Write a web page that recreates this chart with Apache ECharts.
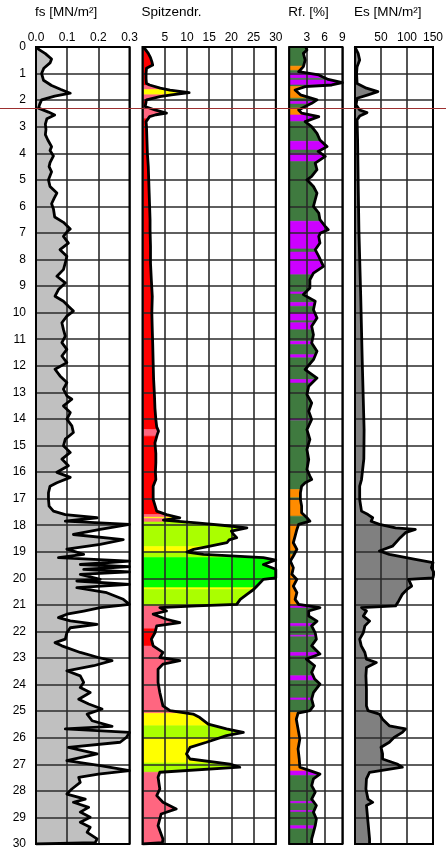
<!DOCTYPE html>
<html><head><meta charset="utf-8">
<script src="https://cdn.jsdelivr.net/npm/echarts@6/dist/echarts.min.js"></script>
<style>html,body{margin:0;padding:0;background:#fff}#c{width:446px;height:852px}</style>
</head><body><div id="c"></div>
<script>
// ---------- DATA ----------
// depth ticks
const depthMin = 0, depthMax = 30, depthStep = 1;
const groundwaterDepth = 2.3;

// fs [MN/m²] : [depth, value]
const fsProfile = [[0,0],[0.1,0.01],[0.25,0.03],[0.45,0.05],[0.6,0.045],[0.8,0.025],[1.0,0.018],[1.25,0.024],[1.45,0.05],[1.6,0.08],[1.74,0.11],[1.85,0.06],[1.99,0.018],[2.15,0.012],[2.3,0.008],[2.45,0.04],[2.56,0.06],[2.7,0.035],[2.9,0.03],[3.1,0.032],[3.3,0.03],[3.5,0.038],[3.75,0.05],[3.9,0.045],[4.1,0.056],[4.35,0.045],[4.5,0.042],[4.7,0.05],[5.0,0.04],[5.25,0.045],[5.5,0.067],[5.7,0.058],[5.9,0.05],[6.1,0.056],[6.4,0.06],[6.6,0.088],[6.85,0.11],[6.95,0.1],[7.13,0.088],[7.38,0.104],[7.63,0.077],[7.88,0.099],[8.13,0.094],[8.38,0.088],[8.63,0.067],[8.88,0.094],[9.13,0.072],[9.38,0.061],[9.57,0.088],[9.76,0.104],[9.94,0.12],[10.13,0.099],[10.38,0.083],[10.63,0.088],[10.88,0.094],[11.13,0.083],[11.38,0.099],[11.63,0.083],[11.88,0.099],[12.13,0.061],[12.38,0.077],[12.63,0.099],[12.88,0.088],[13.13,0.099],[13.26,0.115],[13.51,0.088],[13.76,0.11],[14.01,0.099],[14.26,0.115],[14.51,0.12],[14.76,0.094],[15.01,0.088],[15.26,0.11],[15.51,0.083],[15.76,0.104],[16.01,0.067],[16.2,0.11],[16.4,0.067],[16.53,0.045],[16.78,0.04],[17.03,0.04],[17.28,0.042],[17.47,0.056],[17.6,0.094],[17.72,0.196],[17.85,0.094],[17.97,0.3],[18.16,0.206],[18.35,0.12],[18.54,0.28],[18.72,0.206],[18.9,0.099],[19.1,0.153],[19.22,0.072],[19.35,0.3],[19.48,0.142],[19.56,0.3],[19.66,0.153],[19.76,0.3],[19.85,0.142],[20.04,0.206],[20.1,0.131],[20.23,0.3],[20.35,0.131],[20.54,0.227],[20.79,0.28],[20.98,0.3],[21.1,0.206],[21.23,0.153],[21.35,0.099],[21.48,0.072],[21.6,0.11],[21.73,0.196],[21.86,0.11],[22.05,0.099],[22.29,0.094],[22.42,0.061],[22.54,0.083],[22.79,0.142],[22.98,0.2],[23.1,0.244],[23.29,0.185],[23.48,0.099],[23.67,0.142],[23.92,0.153],[24.11,0.142],[24.3,0.174],[24.55,0.137],[24.73,0.169],[24.92,0.212],[25.11,0.164],[25.36,0.18],[25.57,0.244],[25.67,0.094],[25.8,0.3],[25.99,0.29],[26.17,0.27],[26.36,0.104],[26.61,0.196],[26.86,0.099],[27.05,0.206],[27.24,0.3],[27.37,0.2],[27.49,0.137],[27.68,0.142],[27.93,0.115],[28.12,0.099],[28.31,0.158],[28.43,0.12],[28.62,0.169],[28.8,0.142],[28.99,0.174],[29.18,0.142],[29.37,0.174],[29.56,0.164],[29.81,0.196],[29.95,0.19],[30,0]];
const fsBands = [[0,30,'F']];

// Spitzendruck qc [MN/m²] : [depth, value]
const qcProfile = [[0,0],[0.08,0.6],[0.24,1.3],[0.4,1.8],[0.55,2.1],[0.68,2.3],[0.8,0.9],[1.0,0.8],[1.2,0.8],[1.37,0.9],[1.43,1.6],[1.55,4.0],[1.62,6.2],[1.72,10.5],[1.8,6.5],[1.87,3.9],[1.99,0.9],[2.24,0.6],[2.37,2.8],[2.49,5.4],[2.55,3.0],[2.62,1.6],[2.81,0.8],[3.0,0.9],[3.5,1.0],[4.0,1.1],[4.5,1.3],[5.0,1.4],[5.5,1.5],[6.0,1.6],[6.5,1.7],[6.88,1.7],[7.5,1.8],[8.13,1.8],[8.8,2.0],[9.39,2.2],[10.0,2.1],[10.64,2.2],[11.2,2.3],[11.89,2.4],[12.5,2.5],[13.15,2.7],[13.6,2.8],[14.02,3.0],[14.3,3.2],[14.46,3.6],[14.6,3.3],[14.9,2.8],[15.3,3.0],[15.65,3.0],[16.0,2.9],[16.28,3.0],[16.53,2.4],[17.03,2.4],[17.47,3.2],[17.6,5.4],[17.72,8.4],[17.81,4.7],[17.91,12.2],[18.03,19.7],[18.1,23.5],[18.22,20],[18.35,20.5],[18.47,21.2],[18.55,19.5],[18.66,19],[18.79,15.2],[18.91,11.5],[19.01,10],[19.1,13.7],[19.22,27.2],[19.31,30],[19.48,27.2],[19.66,30],[19.98,30],[20.04,27.2],[20.23,26.1],[20.42,25],[20.6,23.5],[20.79,22],[20.98,21.2],[21.04,12.2],[21.1,3.9],[21.23,5.4],[21.35,2.4],[21.54,5.4],[21.67,8.4],[21.79,3.2],[22.05,2.8],[22.29,2.0],[22.54,2.4],[22.79,4.6],[22.98,3.9],[23.1,8.4],[23.23,4.6],[23.42,3.5],[23.92,3.5],[24.3,3.9],[24.8,4.6],[24.98,6.2],[25.11,11.4],[25.24,12.9],[25.49,14.8],[25.67,18.9],[25.8,22.7],[25.92,18.9],[26.17,14.4],[26.36,10.7],[26.61,9.9],[26.8,10.7],[26.99,19.7],[27.11,21.9],[27.3,3.9],[27.49,3.5],[27.93,3.9],[28.18,3.2],[28.43,4.6],[28.68,7.6],[28.87,4.2],[29.31,3.5],[29.81,4.6],[29.95,4.5],[30,0]];
// soil class bands: [top, bottom, class]
const qcBands = [[0,1.45,'R'],[1.45,1.6,'P'],[1.6,1.8,'Y'],[1.8,2.0,'P'],[2.0,2.25,'R'],[2.25,2.7,'P'],[2.7,14.4,'R'],[14.4,14.65,'P'],[14.65,17.6,'R'],[17.6,17.7,'P'],[17.7,17.75,'Y'],[17.75,17.88,'P'],[17.88,18.8,'YG'],[18.8,19.0,'Y'],[19.0,19.22,'YG'],[19.22,20.35,'G'],[20.35,20.42,'Y'],[20.42,21.04,'YG'],[21.04,21.9,'P'],[21.9,22.55,'R'],[22.55,25.08,'P'],[25.08,25.55,'Y'],[25.55,26.02,'YG'],[26.02,26.95,'Y'],[26.95,27.3,'YG'],[27.3,30,'P']];

// Rf [%] : [depth, value]
const rfProfile = [[0,2.8],[0.11,3.0],[0.24,2.4],[0.49,2.7],[0.74,2.4],[0.93,1.6],[1.05,5.0],[1.22,6.6],[1.34,9.0],[1.43,7.2],[1.49,2.7],[1.62,1.0],[1.8,1.9],[1.99,4.7],[2.12,3.8],[2.24,2.7],[2.37,1.6],[2.49,2.1],[2.62,5.0],[2.81,2.7],[3.0,3.8],[3.25,4.7],[3.5,5.2],[3.75,6.4],[3.93,4.9],[4.12,6.1],[4.37,4.4],[4.62,4.7],[4.87,3.8],[5.0,3.0],[5.25,4.1],[5.5,4.7],[5.75,4.4],[6.0,4.1],[6.25,5.0],[6.5,5.2],[6.75,6.1],[6.88,6.6],[7.0,5.3],[7.13,5.0],[7.38,5.2],[7.63,4.4],[7.88,5.0],[8.26,5.8],[8.51,4.1],[8.76,3.5],[9.07,3.5],[9.32,2.4],[9.57,4.4],[9.89,4.1],[10.2,4.7],[10.51,3.8],[10.83,4.1],[11.14,3.8],[11.45,4.7],[11.77,4.1],[12.14,2.7],[12.46,4.7],[12.77,3.3],[13.08,3.0],[13.4,3.8],[13.71,3.3],[14.02,3.8],[14.4,3.0],[14.77,3.5],[15.15,3.0],[15.53,3.3],[15.9,3.0],[16.15,3.5],[16.28,3.8],[16.4,2.7],[16.53,2.1],[16.78,1.9],[17.03,1.9],[17.28,2.1],[17.53,2.1],[17.72,3.0],[17.85,3.5],[17.97,1.6],[18.16,1.3],[18.41,1.0],[18.66,0.7],[18.91,1.3],[19.16,0.7],[19.35,0.2],[19.6,0.7],[19.85,0.45],[20.04,1.3],[20.29,0.7],[20.54,1.3],[20.79,1.0],[20.98,1.6],[21.1,5.2],[21.23,3.3],[21.42,3.3],[21.61,4.7],[21.79,3.8],[22.05,4.4],[22.29,4.6],[22.54,3.8],[22.85,5.2],[23.04,2.9],[23.29,4.3],[23.54,3.8],[23.79,4.3],[23.98,5.2],[24.3,4.1],[24.55,3.8],[24.8,4.1],[24.98,3.5],[25.07,1.5],[25.3,1.2],[25.67,1.5],[26.05,1.8],[26.42,1.5],[26.8,1.7],[27.11,1.8],[27.24,3.5],[27.37,5.2],[27.55,4.1],[27.8,3.8],[28.05,4.4],[28.31,3.8],[28.55,4.6],[28.8,4.1],[29.06,4.6],[29.31,4.4],[29.56,4.1],[29.81,3.8],[30,3.8]];
const rfBands = [[0,0.72,'G'],[0.72,0.88,'O'],[0.88,0.99,'G'],[0.99,1.18,'V'],[1.18,1.24,'G'],[1.24,1.43,'V'],[1.43,1.49,'G'],[1.49,1.93,'O'],[1.93,2.05,'G'],[2.05,2.15,'V'],[2.15,2.3,'G'],[2.3,2.56,'O'],[2.56,2.8,'V'],[2.8,3.55,'G'],[3.55,3.88,'V'],[3.88,4.0,'G'],[4.0,4.31,'V'],[4.31,6.56,'G'],[6.56,7.6,'V'],[7.6,7.72,'G'],[7.72,8.57,'V'],[8.57,9.22,'G'],[9.22,9.3,'V'],[9.3,9.62,'G'],[9.62,9.76,'V'],[9.76,10.0,'G'],[10.0,10.3,'V'],[10.3,10.38,'G'],[10.38,10.64,'V'],[10.64,11.08,'G'],[11.08,11.2,'V'],[11.2,11.58,'G'],[11.58,11.7,'V'],[11.7,12.52,'G'],[12.52,12.65,'V'],[12.65,14.0,'G'],[14.0,14.06,'V'],[14.06,16.66,'G'],[16.66,16.97,'O'],[16.97,17.05,'G'],[17.05,17.66,'O'],[17.66,17.97,'G'],[17.97,18.97,'O'],[18.97,19.1,'G'],[19.1,21.04,'O'],[21.04,21.12,'V'],[21.12,21.7,'G'],[21.7,21.8,'V'],[21.8,22.14,'G'],[22.14,22.2,'V'],[22.2,22.79,'G'],[22.79,22.92,'V'],[22.92,23.67,'G'],[23.67,23.85,'V'],[23.85,24.5,'G'],[24.5,24.58,'V'],[24.58,25.05,'G'],[25.05,27.25,'O'],[27.25,27.42,'V'],[27.42,28.4,'G'],[28.4,28.47,'V'],[28.47,28.74,'G'],[28.74,28.8,'V'],[28.8,29.31,'G'],[29.31,29.43,'V'],[29.43,30,'G']];

// Es [MN/m²] : [depth, value]
const esProfile = [[0,0],[0.24,6],[0.49,9],[0.74,4],[0.99,3],[1.37,4],[1.55,22],[1.68,44],[1.8,25],[1.93,4],[2.18,2],[2.37,9],[2.47,23],[2.6,9],[2.74,4],[3.5,5],[5,6],[6.88,7.5],[9.39,11],[11.89,14],[14.4,17.5],[15.5,17],[16.28,12.5],[16.53,9],[17.03,9],[17.47,12.5],[17.6,25],[17.72,34],[17.85,31],[17.97,47],[18.1,78],[18.16,116],[18.28,97],[18.47,87],[18.6,81],[18.79,72],[18.97,47],[19.1,66],[19.29,116],[19.41,150],[19.6,147],[19.79,152],[19.98,150],[20.04,103],[20.29,109],[20.42,100],[20.6,91],[20.85,84],[21.04,78],[21.1,12.5],[21.23,22],[21.42,16],[21.61,28],[21.79,19],[22.05,16],[22.29,9],[22.54,12],[22.79,19],[23.04,22],[23.17,41],[23.36,22],[23.67,21],[24.17,22],[24.8,22],[24.98,25],[25.11,47],[25.3,53],[25.55,66],[25.67,97],[25.8,91],[25.99,75],[26.17,66],[26.36,50],[26.61,53],[26.8,53],[26.99,81],[27.11,91],[27.3,28],[27.55,22],[27.93,21],[28.31,25],[28.43,34],[28.55,22],[29.18,25],[29.81,28],[30,28]];
const esBands = [[0,30,'E']];

// axis ticks / titles
const panelTitles = ['fs [MN/m²]', 'Spitzendr.', 'Rf. [%]', 'Es [MN/m²]'];
const panelMax = [0.3, 30, 9, 150];
const panelInterval = [0.1, 5, 3, 50];

// ---------- STYLE ----------
const classColors = {F:'#c0c0c0', E:'#808080', R:'#ff0000', P:'#ff6680', Y:'#ffff00', YG:'#aaff00', G:'#3f7a3f', V:'#cc00ff', O:'#ff8c00'};
const qcColors = Object.assign({}, classColors, {G:'#00ff00'});
const layout = [
  {left:36, width:93.5},
  {left:142.5, width:133.3},
  {left:289.2, width:53.2},
  {left:355, width:80}
];
const gridTop = 47, gridHeight = 797;
const FONT = 'Liberation Sans, Arial, sans-serif';

const profiles = [fsProfile, qcProfile, rfProfile, esProfile];
const bandsList = [fsBands, qcBands, rfBands, esBands];
const colorMaps = [classColors, qcColors, classColors, classColors];

function interp(profile, d) {
  for (let i = 0; i < profile.length - 1; i++) {
    const a = profile[i], b = profile[i + 1];
    if (d >= a[0] && d <= b[0]) {
      if (b[0] === a[0]) return a[1];
      return a[1] + (b[1] - a[1]) * (d - a[0]) / (b[0] - a[0]);
    }
  }
  return profile[profile.length - 1][1];
}

function makeRender(profile, bands, colors) {
  return function (params, api) {
    const band = bands[params.dataIndex];
    const top = band[0], bot = band[1];
    const pts = [api.coord([0, top]), api.coord([interp(profile, top), top])];
    for (const p of profile) {
      if (p[0] > top && p[0] < bot) pts.push(api.coord([p[1], p[0]]));
    }
    pts.push(api.coord([interp(profile, bot), bot]));
    pts.push(api.coord([0, bot]));
    const c = colors[band[2]];
    return {type:'polygon', shape:{points:pts}, style:{fill:c, stroke:c, lineWidth:0.6}};
  };
}

const grid = [], xAxis = [], yAxis = [], series = [], title = [];
for (let i = 0; i < 4; i++) {
  grid.push({left:layout[i].left, top:gridTop, width:layout[i].width, height:gridHeight,
    show:true, backgroundColor:'transparent', borderColor:'#000', borderWidth:2, z:5});
  title.push({text:panelTitles[i], left:layout[i].left - 1, top:5, padding:0,
    textStyle:{fontSize:13.5, fontWeight:'normal', color:'#000', fontFamily:FONT}});
  xAxis.push({gridIndex:i, type:'value', position:'top', min:0, max:panelMax[i], interval:panelInterval[i], z:3,
    axisLine:{show:false}, axisTick:{show:false},
    axisLabel:{fontSize:12, color:'#000', margin:3, fontFamily:FONT,
      formatter: (v) => i === 0 ? v.toFixed(1) : (v === 0 ? '' : String(v))},
    splitLine:{show:true, lineStyle:{color:'#2a2a2a', width:1.6}}});
  yAxis.push({gridIndex:i, type:'value', inverse:true, min:depthMin, max:depthMax, interval:depthStep, z:3,
    axisLine:{show:false}, axisTick:{show:false},
    axisLabel:{show:i === 0, fontSize:12, color:'#000', margin:10, fontFamily:FONT, padding:[4,0,0,0]},
    splitLine:{show:true, lineStyle:{color:'#2a2a2a', width:1.6}}});
  series.push({type:'custom', xAxisIndex:i, yAxisIndex:i, z:1, clip:true, silent:true,
    data: bandsList[i].map(b => [0, b[0], b[1]]), encode:{x:0, y:[1,2]},
    renderItem: makeRender(profiles[i], bandsList[i], colorMaps[i])});
  series.push({type:'line', xAxisIndex:i, yAxisIndex:i, z:4, symbol:'none', clip:true, silent:true,
    data: profiles[i].map(p => [p[1], p[0]]),
    lineStyle:{color:'#000', width:2.8, join:'round'}});
}

const chart = echarts.init(document.getElementById('c'), null, {renderer:'canvas'});
chart.setOption({animation:false, backgroundColor:'#fff', textStyle:{fontFamily:FONT}, title, grid, xAxis, yAxis, series});
const gy = Math.round(chart.convertToPixel({yAxisIndex:0}, groundwaterDepth)) + 0.5;
chart.setOption({graphic:[{type:'line', z:10, silent:true,
  shape:{x1:0, y1:gy, x2:chart.getWidth(), y2:gy}, style:{stroke:'#9c2f2f', lineWidth:1}}]});
</script></body></html>
